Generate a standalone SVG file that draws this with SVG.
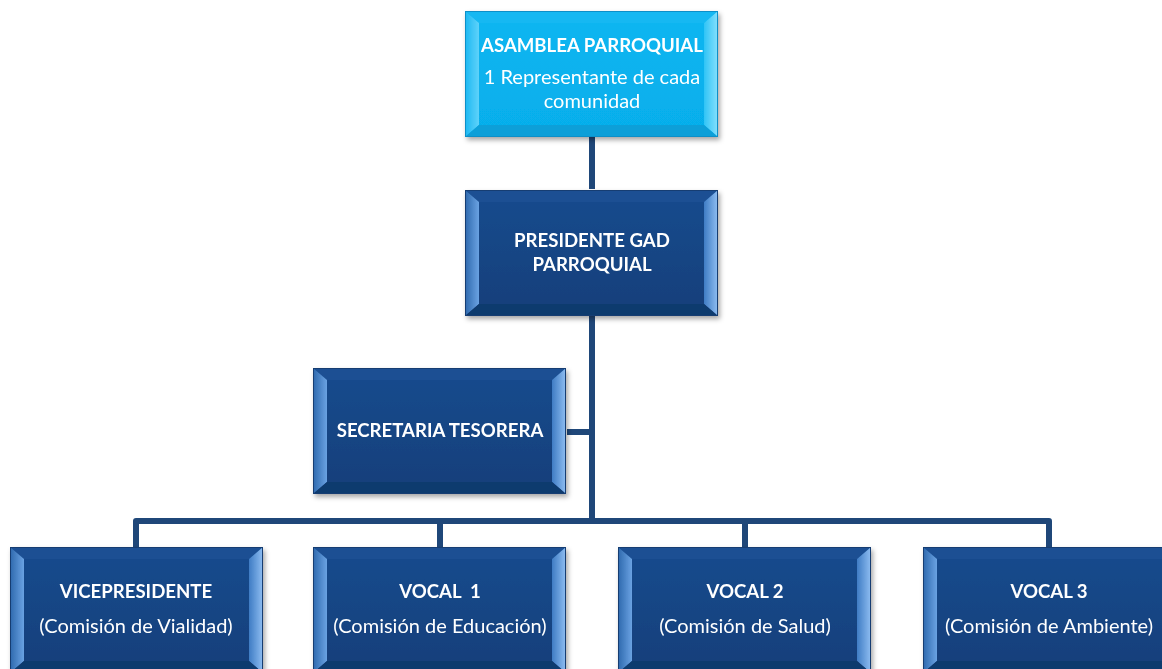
<svg xmlns="http://www.w3.org/2000/svg" xmlns:xlink="http://www.w3.org/1999/xlink" width="1162" height="669" viewBox="0 0 1162 669">
<style>
.t{font-family:Lato,"Open Sans","Liberation Sans",sans-serif;fill:#ffffff;text-anchor:middle}
.b{font-weight:bold;font-size:18.6px}
.r{font-size:20px}
.c{fill:none;stroke:#1f4779;stroke-width:6;stroke-linejoin:round}
</style>
<defs>
<filter id="sh" x="-10%" y="-10%" width="125%" height="130%">
<feDropShadow dx="2" dy="3" stdDeviation="2.5" flood-color="#000" flood-opacity="0.35"/>
</filter>
<linearGradient id="dFill" x1="0" y1="0" x2="0" y2="1">
<stop offset="0" stop-color="#174b8e"/><stop offset="1" stop-color="#133f7a"/>
</linearGradient>
<linearGradient id="dLeft" x1="0" y1="0" x2="1" y2="0">
<stop offset="0" stop-color="#2d68ad"/><stop offset="1" stop-color="#6aa2e2"/>
</linearGradient>
<linearGradient id="dRight" x1="0" y1="0" x2="1" y2="0">
<stop offset="0" stop-color="#3f7cc4"/><stop offset="1" stop-color="#8fbef2"/>
</linearGradient>
<linearGradient id="cFill" x1="0" y1="0" x2="0" y2="1">
<stop offset="0" stop-color="#0ab6f1"/><stop offset="1" stop-color="#06aeeb"/>
</linearGradient>
<linearGradient id="cLeft" x1="0" y1="0" x2="1" y2="0">
<stop offset="0" stop-color="#1ab8f2"/><stop offset="1" stop-color="#5fd2fa"/>
</linearGradient>
<linearGradient id="cRight" x1="0" y1="0" x2="1" y2="0">
<stop offset="0" stop-color="#30c4f6"/><stop offset="1" stop-color="#86e0fd"/>
</linearGradient>
<g id="bevelDark">
<rect x="0" y="0" width="253" height="126" fill="url(#dFill)"/>
<polygon points="0,0 253,0 239,12 14,12" fill="#1a4f93"/>
<polygon points="0,0 14,12 14,114 0,126" fill="url(#dLeft)"/>
<polygon points="253,0 253,126 239,114 239,12" fill="url(#dRight)"/>
<polygon points="0,126 14,114 239,114 253,126" fill="#113a6e"/>
<rect x="0.5" y="0.5" width="252" height="125" fill="none" stroke="#123d72" stroke-width="1"/>
</g>
<g id="bevelCyan">
<rect x="0" y="0" width="253" height="126" fill="url(#cFill)"/>
<polygon points="0,0 253,0 239,12 14,12" fill="#14b8f2"/>
<polygon points="0,0 14,12 14,114 0,126" fill="url(#cLeft)"/>
<polygon points="253,0 253,126 239,114 239,12" fill="url(#cRight)"/>
<polygon points="0,126 14,114 239,114 253,126" fill="#0a9fd8"/>
<rect x="0.5" y="0.5" width="252" height="125" fill="none" stroke="#0b8fc8" stroke-width="1"/>
</g>
</defs>
<rect width="1162" height="669" fill="#ffffff"/>
<g id="connectors">
<line class="c" x1="592" y1="137" x2="592" y2="189"/>
<polyline class="c" points="592,316 592,521"/>
<line class="c" x1="567" y1="432" x2="592" y2="432"/>
<polyline class="c" points="136,547 136,521 1049,521 1049,547"/>
<line class="c" x1="440" y1="521" x2="440" y2="547"/>
<line class="c" x1="745" y1="521" x2="745" y2="547"/>
</g>
<g id="asamblea" filter="url(#sh)">
<use xlink:href="#bevelCyan" x="465" y="11"/>
<text class="t b" x="592" y="52">ASAMBLEA PARROQUIAL</text>
<text class="t r" x="592" y="84">1 Representante de cada</text>
<text class="t r" x="592" y="108">comunidad</text>
</g>
<g id="presidente" filter="url(#sh)">
<use xlink:href="#bevelDark" x="465" y="190"/>
<text class="t b" x="592" y="247">PRESIDENTE GAD</text>
<text class="t b" x="592" y="271">PARROQUIAL</text>
</g>
<g id="secretaria" filter="url(#sh)">
<use xlink:href="#bevelDark" x="313" y="368"/>
<text class="t b" x="440" y="437">SECRETARIA TESORERA</text>
</g>
<g id="vicepresidente" filter="url(#sh)">
<use xlink:href="#bevelDark" x="10" y="547"/>
<text class="t b" x="136" y="598">VICEPRESIDENTE</text>
<text class="t r" x="136" y="633">(Comisión de Vialidad)</text>
</g>
<g id="vocal1" filter="url(#sh)">
<use xlink:href="#bevelDark" x="313" y="547"/>
<text class="t b" x="440" y="598" xml:space="preserve">VOCAL  1</text>
<text class="t r" x="440" y="633">(Comisión de Educación)</text>
</g>
<g id="vocal2" filter="url(#sh)">
<use xlink:href="#bevelDark" x="618" y="547"/>
<text class="t b" x="745" y="598">VOCAL 2</text>
<text class="t r" x="745" y="633">(Comisión de Salud)</text>
</g>
<g id="vocal3" filter="url(#sh)">
<use xlink:href="#bevelDark" x="923" y="547"/>
<text class="t b" x="1049" y="598">VOCAL 3</text>
<text class="t r" x="1049" y="633">(Comisión de Ambiente)</text>
</g>
</svg>
